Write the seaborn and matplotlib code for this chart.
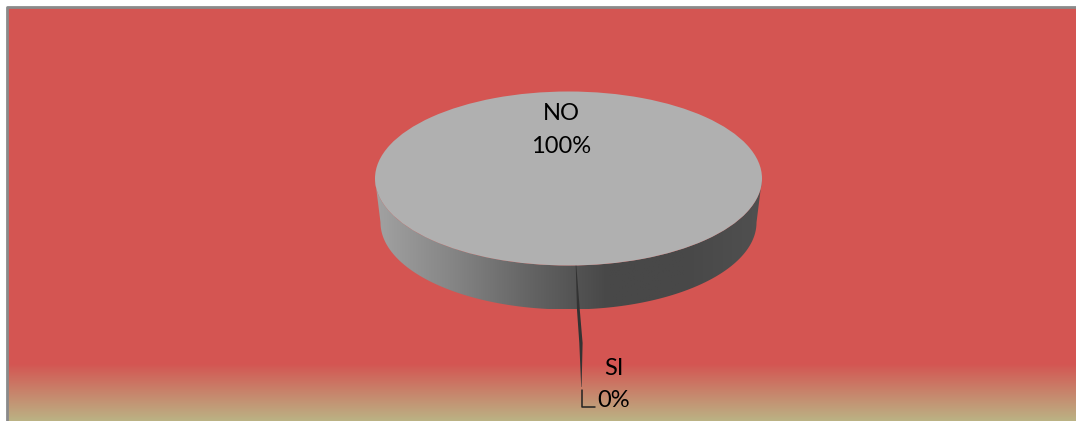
import numpy as np
import matplotlib
matplotlib.use("Agg")
import matplotlib.pyplot as plt
from matplotlib.colors import to_rgb
from matplotlib.patches import Polygon
import seaborn as sns

# Survey answers
answers = ["NO", "SI"]
shares = [100, 0]
label_lines = ["NO\n100%", "SI\n0%"]

W, H = 1076, 421
sns.set_theme(style="white")
plt.rcParams["font.family"] = ["Lato", "DejaVu Sans"]

fig = plt.figure(figsize=(W / 100, H / 100), dpi=100, facecolor="white")

# Full-figure layer addressed in pixels, y growing downwards
bg = fig.add_axes([0, 0, 1, 1])
bg.set_xlim(0, W)
bg.set_ylim(H, 0)
bg.axis("off")

# Chart area: flat red that fades to khaki along the lower edge
red, khaki = "#D45552", "#BBB284"
fade_rows = 58
rows = np.array(
    [to_rgb(red)] * (H - 8 - fade_rows) + list(sns.blend_palette([red, khaki], fade_rows))
)
bg.imshow(rows[:, None, :], extent=(8, W, H, 8), aspect="auto", zorder=0, interpolation="nearest")

# Grey frame on the top and left
bg.plot([7, 7, W], [H, 7, 7], color="#8A8A8A", lw=2, solid_capstyle="butt", zorder=1)

# Disc geometry; the lower rim edge sits slightly inside the top face
cx, cy, rx, ry, depth = 568.5, 178.5, 193.5, 87, 44
low_rx = 188

# Rim of the disc: horizontal grey shading clipped to the extruded ellipse
t = np.linspace(0, np.pi, 200)
rim_outline = np.r_[
    np.c_[cx + low_rx * np.cos(t), cy + depth + ry * np.sin(t)],
    np.c_[cx + rx * np.cos(t[::-1]), cy + ry * np.sin(t[::-1])],
]
rim_clip = Polygon(rim_outline, closed=True, transform=bg.transData, fc="none", ec="none")
bg.add_patch(rim_clip)
rim_shades = sns.blend_palette(["#A2A2A2", "#858585", "#646464", "#484848", "#484848", "#505050"], 256)
rim = bg.imshow(
    np.array(rim_shades)[None, :, :],
    extent=(cx - rx, cx + rx, cy + ry + depth, cy),
    aspect="auto",
    zorder=2,
)
rim.set_clip_path(rim_clip)

# Seam of the empty SI slice, tapering at both ends as it runs into the leader
seam = np.array([[575.7, 265], [577, 310], [579.3, 343], [581.2, 387],
                 [581.6, 387], [582.6, 343], [579.8, 310], [576.3, 265]])
bg.add_patch(Polygon(seam, closed=True, fc="#333333", ec="none", zorder=3))
bg.plot([581.7, 581.7, 595], [390, 407, 407], color="#222222", lw=1.1, zorder=3)

# Top face of the disc, a pie squeezed into the ellipse's bounding box
pie_ax = fig.add_axes([(cx - rx) / W, 1 - (cy + ry) / H, 2 * rx / W, 2 * ry / H])
pie_ax.patch.set_alpha(0)
pie_ax.pie(shares, colors=["#B0B0B0", "#3A3A3A"], radius=1, startangle=90, counterclock=False,
           wedgeprops={"linewidth": 0})
pie_ax.set_aspect("auto")
pie_ax.set_xlim(-1, 1)
pie_ax.set_ylim(-1, 1)

# Slice labels, placed on a transparent layer above the pie
top = fig.add_axes([0, 0, 1, 1], sharex=bg, sharey=bg)
top.patch.set_alpha(0)
top.axis("off")
top.text(561, 130, label_lines[0], ha="center", va="center", fontsize=17, color="black",
         linespacing=1.65)
top.text(613.5, 384.5, label_lines[1], ha="center", va="center", fontsize=17, color="black",
         linespacing=1.65)

fig.savefig("out.png", dpi=100, facecolor="white")
